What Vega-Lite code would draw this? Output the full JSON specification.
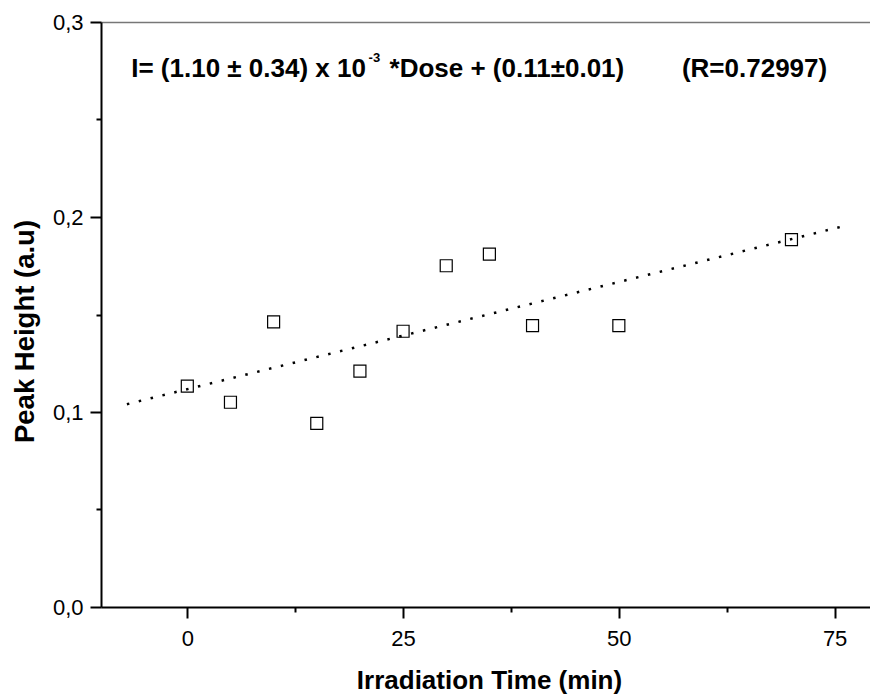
{
  "$schema": "https://vega.github.io/schema/vega-lite/v6.json",
  "width": 769,
  "height": 585,
  "autosize": {"type": "none"},
  "padding": {"left": 101, "top": 22, "right": 0, "bottom": 88},
  "background": "white",
  "config": {
    "font": "Liberation Sans",
    "view": {"stroke": null},
    "axis": {
      "grid": false,
      "domainColor": "black",
      "tickColor": "black",
      "labelColor": "black",
      "titleColor": "black",
      "labelFont": "Liberation Sans",
      "titleFont": "Liberation Sans"
    }
  },
  "datasets": {
    "points": [
      {"time": 0, "height": 0.1133},
      {"time": 5, "height": 0.105},
      {"time": 10, "height": 0.1462},
      {"time": 15, "height": 0.0942},
      {"time": 20, "height": 0.121},
      {"time": 25, "height": 0.1414},
      {"time": 30, "height": 0.175},
      {"time": 35, "height": 0.181},
      {"time": 40, "height": 0.1443},
      {"time": 50, "height": 0.1443},
      {"time": 70, "height": 0.1884}
    ],
    "fit": [
      {"time": -7, "height": 0.104},
      {"time": 76.4, "height": 0.1957}
    ],
    "notes": [
      {"part": "a", "label": "I= (1.10 ± 0.34) x 10"},
      {"part": "b", "label": "-3"},
      {"part": "c", "label": "*Dose + (0.11±0.01)"},
      {"part": "d", "label": "(R=0.72997)"}
    ]
  },
  "layer": [
    {
      "data": {"name": "fit"},
      "mark": {"type": "line", "color": "black", "strokeWidth": 2.5, "strokeDash": [2.5, 9.7], "strokeCap": "butt"},
      "encoding": {
        "x": {
          "field": "time", "type": "quantitative",
          "scale": {"domain": [-10, 79.1], "nice": false, "zero": false},
          "axis": {"orient": "bottom", "values": [12.5, 37.5, 62.5], "labels": false, "domain": false, "tickSize": 5, "tickWidth": 2, "title": null}
        },
        "y": {
          "field": "height", "type": "quantitative",
          "scale": {"domain": [0, 0.3], "nice": false, "zero": false},
          "axis": {"orient": "left", "values": [0.05, 0.15, 0.25], "labels": false, "domain": false, "tickSize": 5, "tickWidth": 2, "title": null}
        }
      }
    },
    {
      "data": {"name": "points"},
      "mark": {"type": "point", "shape": "square", "filled": false, "size": 144, "stroke": "black", "strokeWidth": 1.2, "opacity": 1},
      "encoding": {
        "x": {
          "field": "time", "type": "quantitative",
          "axis": {
            "orient": "bottom", "values": [0, 25, 50, 75], "domainWidth": 2, "tickSize": 11, "tickWidth": 2,
            "labelFontSize": 22, "labelBaseline": "alphabetic", "labelPadding": 27,
            "title": "Irradiation Time (min)", "titleFontSize": 26, "titleFontWeight": "bold",
            "titleX": 388, "titleY": 81, "titleBaseline": "alphabetic", "titleAlign": "center"
          }
        },
        "y": {
          "field": "height", "type": "quantitative",
          "axis": {
            "orient": "left", "values": [0, 0.1, 0.2, 0.3], "domainWidth": 2, "tickSize": 11, "tickWidth": 2,
            "labelFontSize": 22, "labelPadding": 7, "labelBaseline": "middle",
            "labelExpr": "replace(format(datum.value, '.1f'), '.', ',')",
            "title": "Peak Height (a.u)", "titleFontSize": 27.5, "titleFontWeight": "bold",
            "titleX": -68, "titleY": 309, "titleBaseline": "alphabetic", "titleAlign": "center", "titleAngle": 270
          }
        }
      }
    },
    {
      "data": {"name": "fit"},
      "mark": {"type": "line", "opacity": 0},
      "encoding": {
        "x": {
          "field": "time", "type": "quantitative",
          "axis": {"orient": "top", "labels": false, "ticks": false, "domain": true, "domainColor": "#777777", "domainWidth": 1.5, "title": null}
        },
        "y": {"field": "height", "type": "quantitative", "axis": null}
      }
    },
    {
      "data": {"name": "notes"},
      "transform": [{"filter": "datum.part == 'a'"}],
      "mark": {"type": "text", "align": "left", "baseline": "alphabetic", "fontSize": 26, "fontWeight": "bold", "color": "black"},
      "encoding": {
        "x": {"datum": -6.5, "type": "quantitative", "axis": null},
        "y": {"datum": 0.2718, "type": "quantitative", "axis": null},
        "text": {"field": "label"}
      }
    },
    {
      "data": {"name": "notes"},
      "transform": [{"filter": "datum.part == 'b'"}],
      "mark": {"type": "text", "align": "left", "baseline": "alphabetic", "fontSize": 13, "fontWeight": "bold", "color": "black"},
      "encoding": {
        "x": {"datum": 21.0, "type": "quantitative", "axis": null},
        "y": {"datum": 0.2795, "type": "quantitative", "axis": null},
        "text": {"field": "label"}
      }
    },
    {
      "data": {"name": "notes"},
      "transform": [{"filter": "datum.part == 'c'"}],
      "mark": {"type": "text", "align": "left", "baseline": "alphabetic", "fontSize": 26, "fontWeight": "bold", "color": "black"},
      "encoding": {
        "x": {"datum": 23.43, "type": "quantitative", "axis": null},
        "y": {"datum": 0.2718, "type": "quantitative", "axis": null},
        "text": {"field": "label"}
      }
    },
    {
      "data": {"name": "notes"},
      "transform": [{"filter": "datum.part == 'd'"}],
      "mark": {"type": "text", "align": "left", "baseline": "alphabetic", "fontSize": 26, "fontWeight": "bold", "color": "black"},
      "encoding": {
        "x": {"datum": 57.31, "type": "quantitative", "axis": null},
        "y": {"datum": 0.2718, "type": "quantitative", "axis": null},
        "text": {"field": "label"}
      }
    }
  ],
  "resolve": {"axis": {"x": "independent", "y": "independent"}}
}
